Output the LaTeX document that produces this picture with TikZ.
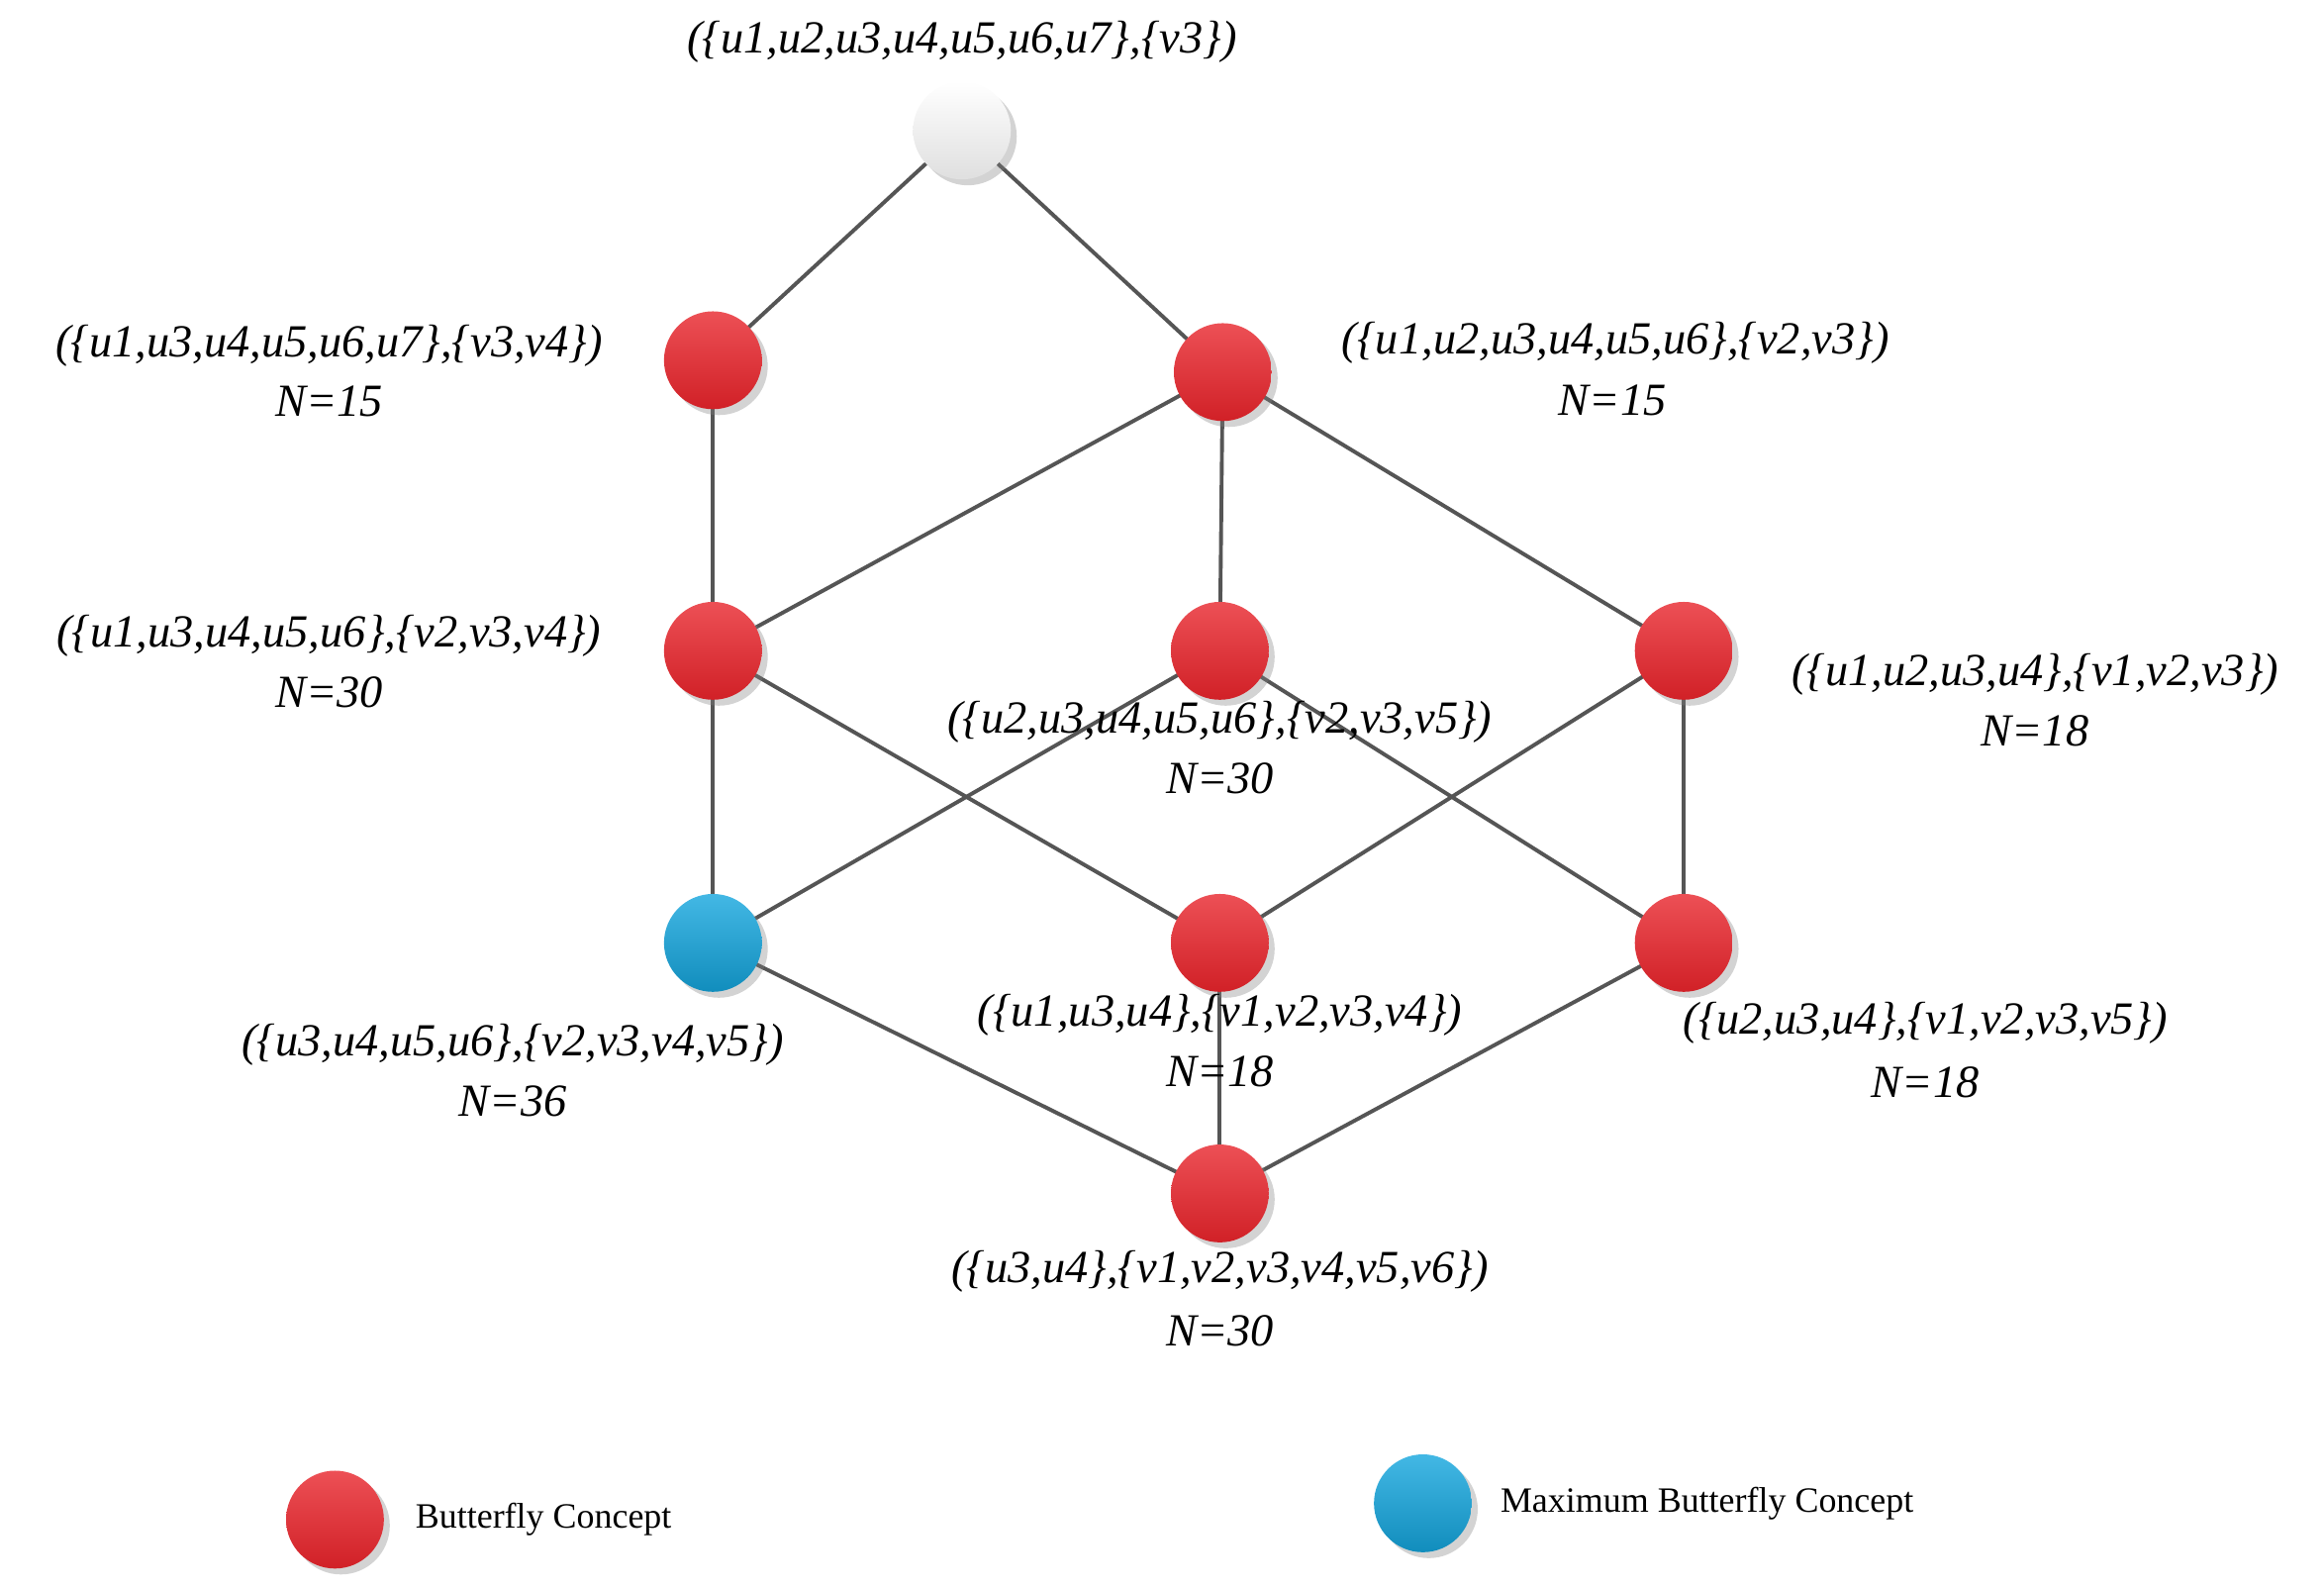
\documentclass[tikz,border=0pt]{standalone}
\usepackage{fontspec}
\setmainfont{Liberation Serif}
\usetikzlibrary{shadows}
\definecolor{bred}{HTML}{E8242B}
\definecolor{bblue}{HTML}{14A6DE}
\definecolor{edge}{HTML}{555555}
\tikzset{
 ball/.style={circle,minimum size=33pt,inner sep=0pt,draw=none,drop shadow={shadow xshift=2pt,shadow yshift=-2pt,opacity=0.35}},
 redball/.style={ball,top color=bred!80!white,bottom color=bred!90!black,shading angle=0},
 blueball/.style={ball,top color=bblue!80!white,bottom color=bblue!85!black},
 whiteball/.style={ball,top color=white,bottom color=gray!25},
 lbl/.style={font=\fontsize{15.5}{18}\selectfont\itshape,inner sep=0pt},
 leg/.style={font=\fontsize{12}{14}\selectfont,anchor=west,inner sep=0pt},
 ln/.style={draw=edge,line width=1.3pt}
}
\begin{document}
\begin{tikzpicture}[x=0.5pt,y=-0.5pt]
\useasboundingbox (0,0) rectangle (1568,1071);
\coordinate (pT) at (649,88);
\coordinate (pA) at (481,243); \coordinate (pB) at (825,251);
\coordinate (pC) at (481,439); \coordinate (pD) at (823,439); \coordinate (pE) at (1136,439);
\coordinate (pF) at (481,636); \coordinate (pG) at (823,636); \coordinate (pH) at (1136,636);
\coordinate (pI) at (823,805);
\foreach \a/\b in {T/A,T/B,A/C,B/C,B/D,B/E,C/F,C/G,D/F,D/H,E/G,E/H,F/I,G/I,H/I}
  \draw[ln] (p\a) -- (p\b);
\node[whiteball] (T) at (pT) {};
\node[redball] (A) at (pA) {}; \node[redball] (B) at (pB) {};
\node[redball] (C) at (pC) {}; \node[redball] (D) at (pD) {}; \node[redball] (E) at (pE) {};
\node[blueball] (F) at (pF) {}; \node[redball] (G) at (pG) {}; \node[redball] (H) at (pH) {};
\node[redball] (I) at (pI) {};
\node[lbl] (lT) at (649,28) {(\{u1,u2,u3,u4,u5,u6,u7\},\{v3\})};
\node[lbl] (lA) at (222,233) {(\{u1,u3,u4,u5,u6,u7\},\{v3,v4\})};
\node[lbl] (nA) at (222,271) {N=15};
\node[lbl] (lB) at (1090,231) {(\{u1,u2,u3,u4,u5,u6\},\{v2,v3\})};
\node[lbl] (nB) at (1088,270) {N=15};
\node[lbl] (lC) at (222,429) {(\{u1,u3,u4,u5,u6\},\{v2,v3,v4\})};
\node[lbl] (nC) at (222,467) {N=30};
\node[lbl] (lD) at (823,487) {(\{u2,u3,u4,u5,u6\},\{v2,v3,v5\})};
\node[lbl] (nD) at (823,525) {N=30};
\node[lbl] (lE) at (1373,455) {(\{u1,u2,u3,u4\},\{v1,v2,v3\})};
\node[lbl] (nE) at (1373,493) {N=18};
\node[lbl] (lF) at (346,705) {(\{u3,u4,u5,u6\},\{v2,v3,v4,v5\})};
\node[lbl] (nF) at (346,743) {N=36};
\node[lbl] (lG) at (823,685) {(\{u1,u3,u4\},\{v1,v2,v3,v4\})};
\node[lbl] (nG) at (823,723) {N=18};
\node[lbl] (lH) at (1299,690) {(\{u2,u3,u4\},\{v1,v2,v3,v5\})};
\node[lbl] (nH) at (1299,730) {N=18};
\node[lbl] (lI) at (823,858) {(\{u3,u4\},\{v1,v2,v3,v4,v5,v6\})};
\node[lbl] (nI) at (823,898) {N=30};
\node[redball] (LR) at (226,1025) {};
\node[leg] (tR) at (280,1025) {Butterfly Concept};
\node[blueball] (LB) at (960,1014) {};
\node[leg] (tB) at (1012,1014) {Maximum Butterfly Concept};
\end{tikzpicture}
\end{document}
